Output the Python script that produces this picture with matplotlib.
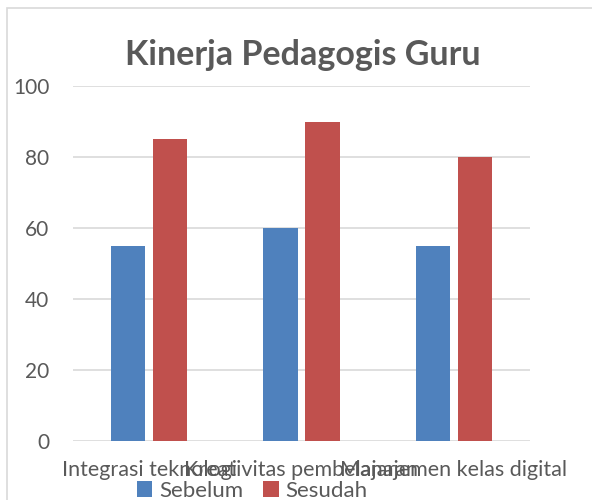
import matplotlib
matplotlib.use("Agg")
import matplotlib.pyplot as plt
from matplotlib.patches import Rectangle
import numpy as np

categories = ["Integrasi teknologi", "Kreativitas pembelajaran", "Manajemen kelas digital"]
sebelum = [55, 60, 55]
sesudah = [85, 90, 80]
yticks = [0, 20, 40, 60, 80, 100]

plt.rcParams['font.family'] = ['Lato', 'DejaVu Sans']
W, H = 592, 500
fig = plt.figure(figsize=(W/100, H/100), dpi=100)

# border
fig.patches.append(Rectangle((7/W, 1 - 520/H), 600/W, 512/H, transform=fig.transFigure,
                             fill=False, edgecolor='#d9d9d9', linewidth=1.2))

ax = fig.add_axes([73/W, 1 - 441/H, (530-73)/W, (441-86)/H])
x = np.arange(len(categories))
bw = 0.225
ax.bar(x - 0.138, sebelum, bw, color='#4f81bd', label='Sebelum', zorder=3)
ax.bar(x + 0.138, sesudah, bw, color='#c0504d', label='Sesudah', zorder=3)
ax.set_xlim(-0.5, 2.5)
ax.set_ylim(0, 100)
ax.set_yticks(yticks)
ax.yaxis.grid(True, color='#d9d9d9', linewidth=1.2, zorder=0)
for s in ax.spines.values():
    s.set_visible(False)
ax.tick_params(length=0, labelsize=15, labelcolor='#595959')
ax.tick_params(axis='y', pad=17)
ax.tick_params(axis='x', pad=14, labelsize=15.5)
ax.set_xticks(x)
ax.set_xticklabels(categories)

fig.text(303/W, 1 - 55/H, "Kinerja Pedagogis Guru", ha='center', va='center',
         fontsize=24.5, fontweight='bold', color='#595959')

leg = fig.legend(loc='center', bbox_to_anchor=(252/W, 1 - 491/H), ncol=2, frameon=False,
                 fontsize=16, handlelength=0.7, handleheight=0.7, handletextpad=0.3,
                 columnspacing=0.9, labelcolor='#595959')

fig.savefig("out.png", dpi=100)
